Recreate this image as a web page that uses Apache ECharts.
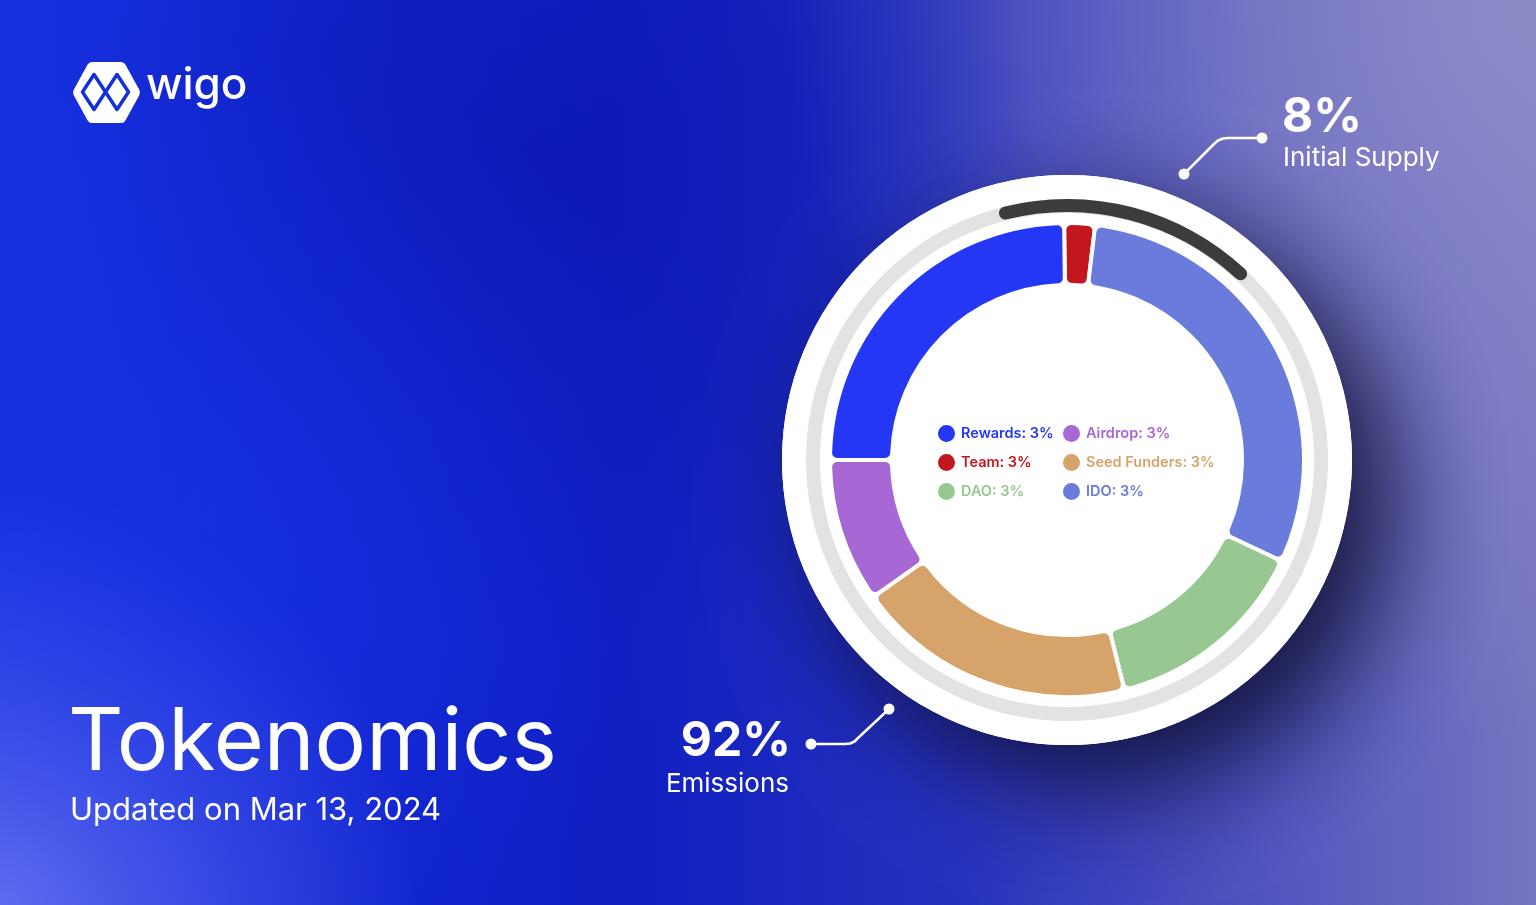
<!DOCTYPE html>
<html><head><meta charset="utf-8">
<script src="https://cdn.jsdelivr.net/npm/echarts@6/dist/echarts.min.js"></script>
<style>html,body{margin:0;padding:0;width:1536px;height:905px;overflow:hidden;background:#1224d0}#c{width:1536px;height:905px}</style>
</head><body><div id="c"></div>
<script>
// ---- data ----
const sliceNames = ['Team', 'IDO', 'DAO', 'Seed Funders', 'Airdrop', 'Rewards'];
const sliceValues = [2.1, 30.1, 14.1, 19.1, 9.8, 24.8];
const legendPercent = ['3%', '3%', '3%', '3%', '3%', '3%'];
const legendCol1 = ['Rewards', 'Team', 'DAO'];
const legendCol2 = ['Airdrop', 'Seed Funders', 'IDO'];
const supplyValues = ['8%', '92%'];
const supplyLabels = ['Initial Supply', 'Emissions'];
const title = 'Tokenomics';
const subtitle = 'Updated on Mar 13, 2024';
const brand = 'wigo';

// ---- styles ----
const palette = {
  'Team': '#c2171f', 'IDO': '#6b7bdc', 'DAO': '#98c891',
  'Seed Funders': '#d6a46a', 'Airdrop': '#a767d4', 'Rewards': '#2437f5'
};
const FONT = 'Inter, "Noto Sans", sans-serif';
const CX = 1067, CY = 460;

const chart = echarts.init(document.getElementById('c'), null, {renderer: 'canvas'});
const G = echarts.graphic;

function legendItems(names) {
  return names.map(n => ({name: n, textStyle: {color: palette[n]}}));
}
function pctFor(name) { return legendPercent[sliceNames.indexOf(name)]; }
function makeLegend(names, left) {
  return {
    orient: 'vertical', left: left, top: 423, padding: 0,
    itemWidth: 19, itemHeight: 19, itemGap: 8, icon: 'circle',
    selectedMode: false,
    data: legendItems(names),
    formatter: n => n + ': ' + pctFor(n),
    textStyle: {fontFamily: FONT, fontSize: 14.5, fontWeight: 600, lineHeight: 19}
  };
}

const bg = [
  {type: 'rect', z: -10, z2: 1, shape: {x: 0, y: 0, width: 1536, height: 905},
    style: {fill: new G.LinearGradient(0, 0, 1536, 0, [
      {offset: 0, color: '#1630e0'}, {offset: 0.4, color: '#0f1fc2'},
      {offset: 0.62, color: '#2530bc'}, {offset: 1, color: '#7674c0'}], true)}},
  {type: 'rect', z: -10, z2: 2, shape: {x: 0, y: 0, width: 1536, height: 905},
    style: {fill: new G.RadialGradient(1536, 0, 750, [
      {offset: 0, color: 'rgba(142,140,200,0.95)'}, {offset: 1, color: 'rgba(142,140,200,0)'}], true)}},
  {type: 'rect', z: -10, z2: 3, shape: {x: 0, y: 0, width: 1536, height: 905},
    style: {fill: new G.RadialGradient(0, 905, 420, [
      {offset: 0, color: 'rgba(105,118,240,0.9)'}, {offset: 1, color: 'rgba(105,118,240,0)'}], true)}},
  {type: 'rect', z: -10, z2: 4, shape: {x: 0, y: 0, width: 1536, height: 905},
    style: {fill: new G.RadialGradient(560, 170, 480, [
      {offset: 0, color: 'rgba(10,22,175,0.75)'}, {offset: 1, color: 'rgba(10,22,175,0)'}], true)}},
  {type: 'rect', z: -10, z2: 5, shape: {x: 0, y: 0, width: 1536, height: 905},
    style: {fill: new G.RadialGradient(220, 520, 480, [
      {offset: 0, color: 'rgba(24,48,232,0.55)'}, {offset: 1, color: 'rgba(24,48,232,0)'}], true)}},
  // white disk with shadow
  {type: 'circle', z: 0, z2: 1, shape: {cx: CX, cy: CY, r: 285},
    style: {fill: '#ffffff', shadowColor: 'rgba(12,12,48,0.9)', shadowBlur: 110, shadowOffsetX: 40, shadowOffsetY: 40}},
  {type: 'circle', z: 0, z2: 2, shape: {cx: CX, cy: CY, r: 285}, style: {fill: '#ffffff'}}
];

const logo = [
  {type: 'polygon', z: 10, shape: {points: [[78, 92.5], [92, 67], [121, 67], [135, 92.5], [121, 118], [92, 118]]},
    style: {fill: '#ffffff', stroke: '#ffffff', lineWidth: 10, lineJoin: 'round'}},
  {type: 'polygon', z: 10, z2: 2, shape: {points: [[82.5, 92], [94, 74.5], [105.5, 92], [94, 109.5]]},
    style: {fill: 'none', stroke: '#1530d8', lineWidth: 3.5, lineJoin: 'round'}},
  {type: 'polygon', z: 10, z2: 2, shape: {points: [[105.5, 92], [117, 74.5], [128.5, 92], [117, 109.5]]},
    style: {fill: 'none', stroke: '#1530d8', lineWidth: 3.5, lineJoin: 'round'}},
  {type: 'text', z: 10, style: {text: brand, x: 146, y: 86, fill: '#ffffff',
    font: '500 44px ' + FONT, textAlign: 'left', textVerticalAlign: 'middle'}}
];

const lineStyle = {fill: 'none', stroke: '#ffffff', lineWidth: 2.5, lineCap: 'round', lineJoin: 'round'};
const texts = [
  {type: 'text', z: 10, style: {text: title, x: 68, y: 744, fill: '#ffffff',
    font: '400 86px ' + FONT, textAlign: 'left', textVerticalAlign: 'middle'}},
  {type: 'text', z: 10, style: {text: subtitle, x: 70, y: 811, fill: '#ffffff',
    font: '400 31px ' + FONT, textAlign: 'left', textVerticalAlign: 'middle'}},
  {type: 'text', z: 10, style: {text: supplyValues[0], x: 1282, y: 118, fill: '#ffffff',
    font: '700 48px ' + FONT, textAlign: 'left', textVerticalAlign: 'middle'}},
  {type: 'text', z: 10, style: {text: supplyLabels[0], x: 1283, y: 158, fill: '#ffffff',
    font: '400 26px ' + FONT, textAlign: 'left', textVerticalAlign: 'middle'}},
  {type: 'text', z: 10, style: {text: supplyValues[1], x: 791, y: 742, fill: '#ffffff',
    font: '700 48px ' + FONT, textAlign: 'right', textVerticalAlign: 'middle'}},
  {type: 'text', z: 10, style: {text: supplyLabels[1], x: 789, y: 784, fill: '#ffffff',
    font: '400 26px ' + FONT, textAlign: 'right', textVerticalAlign: 'middle'}},
  // callout connectors
  {type: 'polyline', z: 10, shape: {points: [[1184, 174], [1214, 144], [1218, 140.5], [1223, 138.5], [1228, 138], [1262, 138]]},
    style: lineStyle},
  {type: 'circle', z: 10, shape: {cx: 1184, cy: 174, r: 5.5}, style: {fill: '#ffffff'}},
  {type: 'circle', z: 10, shape: {cx: 1262, cy: 138, r: 5.5}, style: {fill: '#ffffff'}},
  {type: 'polyline', z: 10, shape: {points: [[811, 744], [845, 744], [850, 743.5], [854.5, 741.5], [858, 738], [889, 709]]},
    style: lineStyle},
  {type: 'circle', z: 10, shape: {cx: 811, cy: 744, r: 5.5}, style: {fill: '#ffffff'}},
  {type: 'circle', z: 10, shape: {cx: 889, cy: 709, r: 5.5}, style: {fill: '#ffffff'}}
];

const option = {
  animation: false,
  backgroundColor: '#1224d0',
  graphic: {elements: bg.concat(logo, texts)},
  legend: [makeLegend(legendCol1, 936), makeLegend(legendCol2, 1061)],
  series: [
    { // gray ring
      type: 'pie', z: 2, silent: true, center: [CX, CY], radius: [247, 261],
      label: {show: false}, labelLine: {show: false},
      itemStyle: {color: '#e3e3e3'},
      data: [{value: 1, name: '__ring'}]
    },
    { // initial supply arc
      type: 'gauge', z: 3, silent: true, center: [CX, CY], radius: 261,
      startAngle: 104, endAngle: 47, min: 0, max: 1,
      progress: {show: true, width: 13, roundCap: true, itemStyle: {color: '#3c3c3c'}},
      axisLine: {show: false}, axisTick: {show: false}, splitLine: {show: false},
      axisLabel: {show: false}, pointer: {show: false}, anchor: {show: false},
      title: {show: false}, detail: {show: false},
      data: [{value: 1}]
    },
    {
      type: 'pie', z: 4, center: [CX, CY], radius: [175, 237],
      startAngle: 90.7, clockwise: true, avoidLabelOverlap: false,
      label: {show: false}, labelLine: {show: false},
      emphasis: {disabled: true},
      itemStyle: {borderColor: '#ffffff', borderWidth: 4, borderRadius: 7},
      data: sliceNames.map((n, i) => ({name: n, value: sliceValues[i], itemStyle: {color: palette[n]}}))
    }
  ]
};
chart.setOption(option);
</script></body></html>
